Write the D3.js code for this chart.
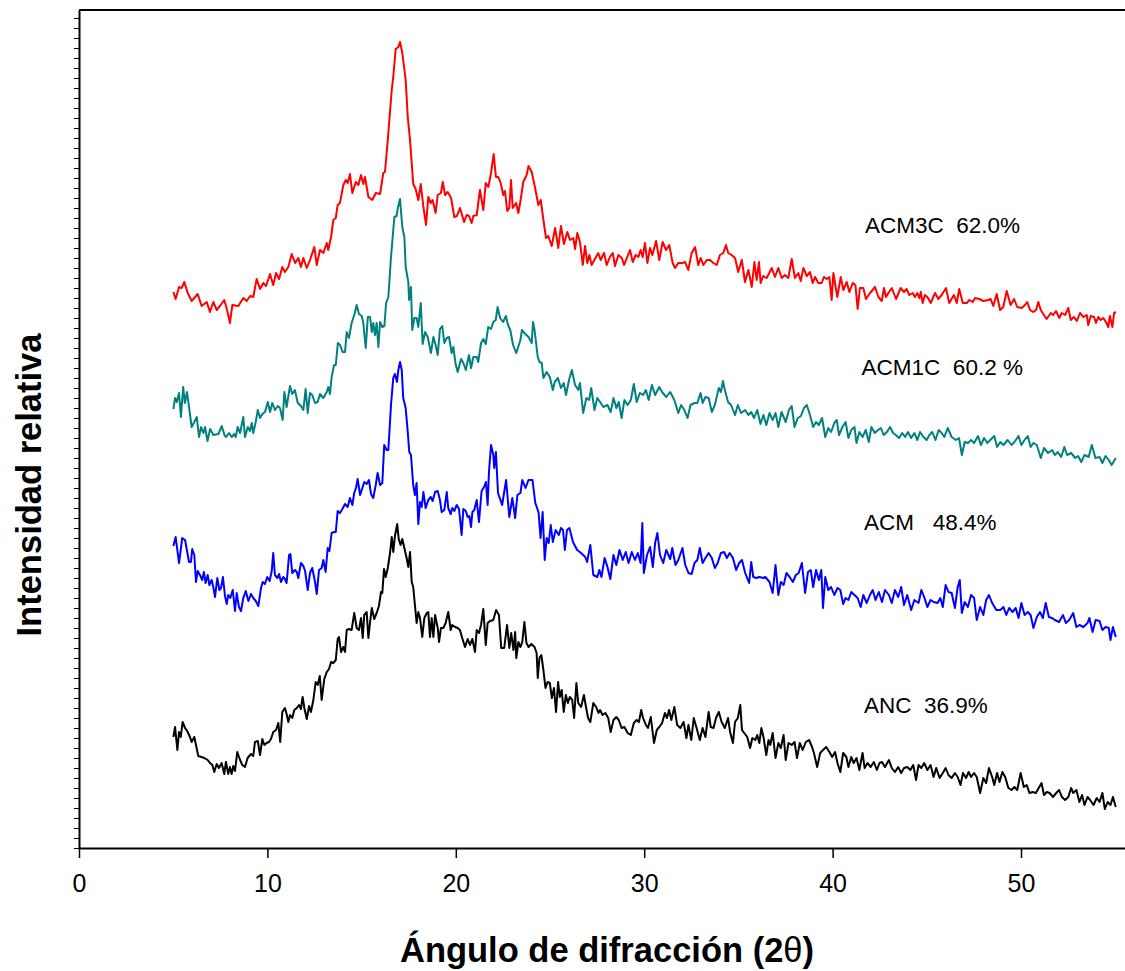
<!DOCTYPE html>
<html><head><meta charset="utf-8">
<script src="https://cdn.jsdelivr.net/npm/d3@7"></script>
<style>body{margin:0;background:#fff}svg{display:block}</style>
</head><body><svg id="chart" width="1125" height="971"></svg>
<script>
// ---------- DATA ----------
const xTicks=[0,10,20,30,40,50];
const seriesNames=["ACM3C","ACM1C","ACM","ANC"];
const seriesLabels=["ACM3C  62.0%","ACM1C  60.2 %","ACM   48.4%","ANC  36.9%"];
// [angle 2θ (deg), relative intensity (a.u.)]
const ACM3C=[[5.01,556],[5.13,549],[5.31,561],[5.45,560],[5.59,566],[5.77,555],[5.98,547],[6.30,554],[6.51,542],[6.78,546],[6.95,536],[7.13,546],[7.31,538],[7.48,542],[7.71,548],[7.86,538],[8.01,525],[8.14,543],[8.46,542],[8.72,550],[8.90,547],[9.08,552],[9.25,551],[9.43,569],[9.61,559],[9.78,565],[9.93,562],[10.14,574],[10.31,563],[10.46,575],[10.62,569],[10.79,581],[10.93,576],[11.11,581],[11.29,594],[11.47,585],[11.64,590],[11.78,581],[11.91,590],[12.09,580],[12.26,588],[12.49,601],[12.62,583],[12.79,598],[12.97,595],[13.15,605],[13.23,598],[13.38,611],[13.50,628],[13.63,630],[13.73,643],[13.85,645],[14.03,663],[14.16,668],[14.26,665],[14.38,674],[14.51,655],[14.69,666],[14.83,663],[14.97,673],[15.09,664],[15.18,671],[15.36,651],[15.57,648],[15.75,655],[15.98,654],[16.15,675],[16.24,676],[16.39,708],[16.60,758],[16.68,771],[16.81,799],[16.95,801],[17.04,806],[17.16,795],[17.34,768],[17.45,731],[17.57,708],[17.74,664],[17.87,659],[18.01,648],[18.14,664],[18.28,641],[18.42,623],[18.54,651],[18.67,645],[18.77,648],[18.93,635],[19.04,653],[19.21,655],[19.31,666],[19.43,653],[19.57,656],[19.75,650],[19.92,631],[20.06,632],[20.22,640],[20.44,626],[20.58,633],[20.70,632],[20.84,625],[20.93,632],[21.11,633],[21.28,658],[21.46,638],[21.59,665],[21.73,661],[21.87,675],[22.01,694],[22.13,671],[22.26,671],[22.38,665],[22.52,653],[22.61,657],[22.73,637],[22.84,640],[22.93,668],[23.02,640],[23.20,645],[23.32,635],[23.44,648],[23.58,666],[23.76,673],[23.86,682],[24.03,676],[24.20,661],[24.38,643],[24.51,648],[24.65,628],[24.79,610],[24.91,612],[25.09,602],[25.27,620],[25.44,600],[25.58,622],[25.74,604],[25.92,616],[26.06,608],[26.24,610],[26.33,599],[26.45,615],[26.59,606],[26.74,583],[26.86,602],[26.98,585],[27.09,593],[27.21,583],[27.44,591],[27.56,595],[27.69,588],[27.87,595],[28.01,583],[28.18,591],[28.33,595],[28.45,582],[28.63,593],[28.81,590],[28.93,583],[29.10,591],[29.25,598],[29.39,586],[29.55,593],[29.69,591],[29.81,598],[29.92,591],[30.04,605],[30.17,585],[30.31,600],[30.43,593],[30.63,607],[30.80,588],[30.98,606],[31.16,598],[31.33,603],[31.51,585],[31.64,580],[31.81,585],[32.04,585],[32.17,586],[32.34,578],[32.52,595],[32.70,601],[32.87,583],[33.00,590],[33.14,583],[33.32,588],[33.49,588],[33.67,585],[33.85,583],[34.02,593],[34.20,595],[34.34,603],[34.46,595],[34.64,593],[34.82,590],[34.99,576],[35.18,588],[35.35,566],[35.53,578],[35.71,561],[35.85,586],[35.97,568],[36.09,586],[36.18,565],[36.32,572],[36.50,570],[36.77,580],[36.94,571],[37.12,580],[37.30,570],[37.47,573],[37.65,570],[37.83,589],[38.00,570],[38.18,575],[38.31,567],[38.45,580],[38.63,572],[38.80,576],[38.94,565],[39.07,571],[39.24,565],[39.42,565],[39.54,571],[39.69,569],[39.83,571],[39.95,548],[40.04,575],[40.25,551],[40.43,571],[40.57,558],[40.75,566],[40.89,556],[41.07,565],[41.21,563],[41.33,539],[41.45,560],[41.63,560],[41.77,549],[41.99,555],[42.25,561],[42.43,551],[42.61,547],[42.73,560],[42.83,551],[42.96,555],[43.14,560],[43.37,549],[43.61,560],[43.79,556],[43.93,559],[44.07,553],[44.25,555],[44.37,551],[44.50,555],[44.60,550],[44.68,556],[44.78,545],[44.90,553],[45.03,551],[45.21,545],[45.44,555],[45.61,549],[45.79,553],[46.02,560],[46.19,545],[46.44,553],[46.59,545],[46.72,559],[46.91,545],[47.12,545],[47.26,548],[47.44,546],[47.56,550],[47.79,549],[48.00,547],[48.26,548],[48.39,549],[48.53,542],[48.71,554],[48.89,538],[49.06,541],[49.24,557],[49.45,543],[49.63,549],[49.80,541],[50.04,540],[50.21,543],[50.33,546],[50.48,538],[50.65,536],[50.80,538],[50.92,546],[51.05,538],[51.18,534],[51.36,529],[51.58,535],[51.71,533],[51.86,537],[52.03,530],[52.16,535],[52.34,533],[52.51,540],[52.64,528],[52.81,531],[52.96,527],[53.13,535],[53.31,531],[53.49,533],[53.57,523],[53.70,532],[53.88,531],[53.98,525],[54.10,531],[54.23,528],[54.37,530],[54.51,526],[54.63,521],[54.72,532],[54.85,521],[54.94,535],[55.04,536]];
const ACM1C=[[5.01,439],[5.10,450],[5.19,446],[5.31,455],[5.41,431],[5.53,461],[5.62,445],[5.73,456],[5.84,441],[5.98,421],[6.12,426],[6.25,431],[6.37,411],[6.48,421],[6.60,415],[6.69,421],[6.82,407],[6.96,419],[7.13,413],[7.40,414],[7.58,422],[7.72,413],[7.81,411],[7.96,415],[8.11,411],[8.24,414],[8.32,411],[8.42,421],[8.55,415],[8.72,431],[8.81,411],[8.96,421],[9.08,417],[9.17,425],[9.25,415],[9.38,426],[9.49,438],[9.61,430],[9.73,434],[9.87,436],[10.02,446],[10.14,436],[10.26,445],[10.40,438],[10.55,442],[10.67,440],[10.81,428],[10.90,456],[11.02,441],[11.20,462],[11.32,454],[11.46,458],[11.61,445],[11.78,442],[11.91,438],[12.03,459],[12.14,435],[12.26,455],[12.38,453],[12.53,445],[12.67,446],[12.79,454],[12.97,450],[13.15,456],[13.23,461],[13.32,454],[13.41,471],[13.54,483],[13.63,483],[13.74,505],[13.86,503],[13.99,496],[14.12,496],[14.21,516],[14.33,510],[14.47,525],[14.61,533],[14.74,543],[14.86,534],[15.01,532],[15.09,525],[15.22,500],[15.33,531],[15.45,531],[15.54,516],[15.62,525],[15.71,513],[15.80,525],[15.89,501],[15.98,526],[16.10,521],[16.21,522],[16.30,545],[16.42,551],[16.56,591],[16.74,631],[16.86,632],[16.92,640],[17.04,649],[17.16,621],[17.27,611],[17.34,581],[17.48,566],[17.52,548],[17.62,561],[17.69,518],[17.80,530],[17.92,530],[18.01,521],[18.14,545],[18.24,504],[18.37,516],[18.51,511],[18.68,495],[18.81,511],[18.93,503],[19.04,493],[19.16,519],[19.28,522],[19.39,505],[19.52,510],[19.64,511],[19.78,495],[19.87,501],[19.99,484],[20.10,476],[20.28,489],[20.40,485],[20.53,478],[20.70,493],[20.81,480],[20.93,491],[21.11,491],[21.19,486],[21.34,505],[21.46,509],[21.59,504],[21.72,521],[21.87,519],[21.99,526],[22.12,528],[22.22,541],[22.35,530],[22.51,526],[22.66,532],[22.77,523],[22.89,518],[23.04,503],[23.21,495],[23.43,508],[23.51,518],[23.64,515],[23.86,511],[24.03,505],[24.10,526],[24.18,518],[24.35,491],[24.44,486],[24.56,485],[24.65,470],[24.82,476],[24.99,471],[25.15,458],[25.25,466],[25.42,470],[25.58,460],[25.73,465],[25.85,453],[26.01,468],[26.16,478],[26.33,463],[26.50,458],[26.59,465],[26.76,435],[26.93,450],[27.08,448],[27.19,460],[27.36,438],[27.51,450],[27.66,446],[27.83,441],[28.05,443],[28.22,436],[28.37,450],[28.52,440],[28.65,446],[28.80,430],[28.95,448],[29.12,443],[29.29,448],[29.45,464],[29.60,446],[29.77,455],[29.94,453],[30.09,458],[30.24,448],[30.41,463],[30.58,453],[30.80,461],[30.95,456],[31.17,451],[31.38,456],[31.60,448],[31.81,435],[31.96,443],[32.13,438],[32.30,430],[32.46,443],[32.67,445],[32.82,445],[32.99,455],[33.10,445],[33.25,451],[33.42,450],[33.59,436],[33.75,443],[33.96,460],[34.07,456],[34.18,467],[34.28,458],[34.45,446],[34.61,443],[34.82,433],[34.97,443],[35.14,435],[35.36,438],[35.53,433],[35.68,436],[35.83,430],[36.00,438],[36.17,424],[36.33,433],[36.48,423],[36.65,435],[36.82,428],[36.97,435],[37.12,421],[37.29,436],[37.51,426],[37.68,438],[37.83,442],[37.98,421],[38.15,430],[38.32,432],[38.48,440],[38.63,443],[38.80,433],[38.97,421],[39.12,426],[39.27,423],[39.44,430],[39.61,411],[39.77,420],[39.92,416],[40.09,425],[40.22,428],[40.34,413],[40.52,421],[40.69,426],[40.84,410],[40.99,418],[41.16,421],[41.27,405],[41.42,416],[41.59,411],[41.76,418],[41.92,406],[42.06,421],[42.24,415],[42.41,418],[42.56,420],[42.71,413],[42.88,416],[43.05,421],[43.21,415],[43.35,413],[43.53,410],[43.70,415],[43.85,411],[44.00,416],[44.17,410],[44.34,415],[44.50,408],[44.64,416],[44.82,411],[44.99,408],[45.14,413],[45.29,416],[45.46,408],[45.63,418],[45.79,415],[45.93,411],[46.11,420],[46.32,411],[46.54,408],[46.71,410],[46.86,393],[47.01,406],[47.18,405],[47.35,408],[47.51,405],[47.72,412],[47.87,403],[48.04,410],[48.21,405],[48.37,408],[48.58,412],[48.73,401],[48.90,406],[49.07,403],[49.29,408],[49.50,403],[49.65,406],[49.87,412],[50.02,403],[50.19,408],[50.36,412],[50.51,401],[50.66,405],[50.84,403],[51.05,390],[51.22,400],[51.44,395],[51.65,398],[51.80,393],[51.95,396],[52.13,391],[52.30,401],[52.45,393],[52.66,395],[52.88,390],[53.03,392],[53.20,386],[53.37,393],[53.59,391],[53.76,403],[53.95,390],[54.17,391],[54.32,385],[54.49,392],[54.66,388],[54.81,383],[55.03,390]];
const ACM=[[5.01,302],[5.13,311],[5.31,285],[5.48,310],[5.63,308],[5.84,286],[5.94,286],[6.01,299],[6.12,293],[6.21,266],[6.30,277],[6.42,273],[6.54,268],[6.63,276],[6.72,265],[6.83,273],[6.92,263],[7.04,268],[7.13,261],[7.22,251],[7.34,270],[7.45,258],[7.54,260],[7.64,271],[7.75,252],[7.84,244],[7.92,253],[8.03,250],[8.16,258],[8.28,237],[8.37,255],[8.49,241],[8.60,237],[8.72,250],[8.85,257],[8.99,247],[9.13,254],[9.25,250],[9.38,247],[9.52,242],[9.66,260],[9.75,266],[9.87,264],[9.99,271],[10.12,267],[10.23,277],[10.31,295],[10.40,273],[10.53,270],[10.62,274],[10.72,266],[10.84,271],[10.93,269],[11.02,265],[11.15,293],[11.22,294],[11.32,275],[11.46,278],[11.56,276],[11.64,270],[11.78,285],[11.91,282],[12.00,277],[12.14,258],[12.26,275],[12.38,280],[12.53,266],[12.62,254],[12.74,278],[12.88,280],[12.97,288],[13.09,276],[13.20,300],[13.29,297],[13.41,315],[13.54,316],[13.63,316],[13.73,337],[13.85,335],[13.98,339],[14.12,344],[14.26,341],[14.38,350],[14.51,343],[14.61,355],[14.70,360],[14.79,369],[14.92,353],[15.04,360],[15.14,366],[15.27,364],[15.39,368],[15.50,354],[15.62,350],[15.75,363],[15.85,375],[15.98,363],[16.10,365],[16.20,403],[16.33,398],[16.42,398],[16.56,443],[16.68,470],[16.77,474],[16.88,466],[16.95,478],[17.04,486],[17.13,478],[17.21,450],[17.34,440],[17.45,416],[17.53,396],[17.62,393],[17.74,363],[17.83,353],[17.92,365],[18.01,324],[18.10,346],[18.19,341],[18.28,356],[18.40,340],[18.54,348],[18.67,351],[18.77,347],[18.90,356],[19.04,357],[19.16,348],[19.25,336],[19.39,338],[19.52,356],[19.60,340],[19.73,334],[19.81,340],[19.92,337],[20.05,343],[20.17,339],[20.31,313],[20.40,339],[20.53,337],[20.63,331],[20.72,332],[20.81,321],[20.88,336],[20.98,338],[21.11,348],[21.23,326],[21.37,357],[21.50,361],[21.60,366],[21.69,343],[21.76,376],[21.87,403],[21.99,393],[22.04,380],[22.13,396],[22.24,355],[22.46,343],[22.67,368],[22.84,331],[23.00,350],[23.15,330],[23.27,353],[23.43,355],[23.53,368],[23.70,360],[23.86,368],[24.07,368],[24.22,345],[24.39,336],[24.50,310],[24.61,336],[24.72,288],[24.82,310],[24.93,305],[25.04,323],[25.15,306],[25.30,318],[25.47,313],[25.58,320],[25.69,318],[25.79,298],[25.90,318],[26.03,320],[26.22,306],[26.44,298],[26.65,295],[26.87,291],[26.97,286],[27.14,303],[27.30,273],[27.51,271],[27.62,278],[27.73,271],[27.90,290],[28.05,281],[28.20,269],[28.37,293],[28.52,283],[28.69,298],[28.86,288],[29.02,296],[29.17,285],[29.34,296],[29.51,288],[29.66,295],[29.81,285],[29.90,325],[29.98,275],[30.15,293],[30.31,301],[30.46,281],[30.58,305],[30.70,315],[30.84,293],[31.01,285],[31.17,298],[31.38,289],[31.49,300],[31.66,283],[31.81,288],[32.03,300],[32.18,283],[32.35,275],[32.52,274],[32.67,285],[32.82,288],[32.95,300],[33.10,285],[33.25,290],[33.42,295],[33.59,290],[33.75,280],[33.90,285],[34.07,295],[34.24,296],[34.39,290],[34.54,295],[34.71,290],[34.88,278],[35.04,285],[35.19,288],[35.36,275],[35.57,265],[35.68,286],[35.79,271],[35.96,270],[36.11,271],[36.33,270],[36.43,271],[36.65,266],[36.82,255],[36.97,283],[37.12,253],[37.25,266],[37.40,263],[37.55,275],[37.72,271],[37.89,266],[38.05,273],[38.20,275],[38.37,285],[38.54,255],[38.69,276],[38.84,278],[38.97,261],[39.12,278],[39.27,268],[39.40,278],[39.49,240],[39.61,271],[39.77,258],[39.92,261],[40.09,253],[40.26,260],[40.41,258],[40.56,244],[40.69,250],[40.84,248],[40.99,256],[41.16,253],[41.33,250],[41.49,241],[41.63,253],[41.81,245],[41.98,253],[42.13,258],[42.28,248],[42.45,256],[42.62,246],[42.78,258],[42.99,253],[43.14,245],[43.31,258],[43.48,251],[43.64,261],[43.79,243],[43.96,253],[44.17,238],[44.34,248],[44.56,245],[44.71,258],[44.86,251],[45.03,241],[45.20,248],[45.36,246],[45.57,245],[45.72,250],[45.85,241],[46.00,263],[46.15,256],[46.32,255],[46.49,240],[46.64,261],[46.75,268],[46.86,235],[47.01,246],[47.18,241],[47.35,253],[47.51,250],[47.65,228],[47.83,241],[48.00,233],[48.15,248],[48.30,253],[48.47,245],[48.69,238],[48.90,238],[49.07,241],[49.22,233],[49.37,240],[49.55,236],[49.72,240],[49.87,230],[50.02,245],[50.19,233],[50.36,236],[50.51,233],[50.66,220],[50.84,231],[51.01,236],[51.16,230],[51.31,245],[51.48,231],[51.65,230],[51.80,228],[52.02,226],[52.23,233],[52.38,225],[52.56,228],[52.77,235],[52.94,221],[53.10,223],[53.31,221],[53.53,225],[53.63,230],[53.80,216],[53.96,228],[54.17,227],[54.32,218],[54.49,221],[54.66,220],[54.75,208],[54.88,221],[55.03,211]];
const ANC=[[5.01,111],[5.10,121],[5.22,98],[5.31,116],[5.40,111],[5.50,126],[5.63,120],[5.77,116],[5.89,111],[5.98,106],[6.12,111],[6.21,103],[6.33,92],[6.51,91],[6.65,90],[6.83,88],[6.95,85],[7.08,83],[7.18,76],[7.31,84],[7.43,80],[7.57,85],[7.71,74],[7.80,86],[7.92,74],[8.01,81],[8.10,74],[8.19,82],[8.28,77],[8.40,96],[8.55,88],[8.67,83],[8.81,81],[8.95,90],[9.13,94],[9.25,92],[9.34,106],[9.49,107],[9.61,93],[9.73,109],[9.84,103],[9.96,105],[10.08,106],[10.19,109],[10.31,116],[10.46,118],[10.58,125],[10.68,106],[10.79,136],[10.93,140],[11.02,134],[11.11,126],[11.20,133],[11.32,130],[11.43,138],[11.56,140],[11.68,143],[11.78,139],[11.87,151],[11.96,140],[12.09,129],[12.21,142],[12.31,136],[12.44,148],[12.56,166],[12.67,163],[12.78,172],[12.88,148],[13.02,169],[13.15,176],[13.27,179],[13.38,186],[13.50,185],[13.63,188],[13.73,209],[13.80,211],[13.91,196],[14.03,201],[14.12,196],[14.21,218],[14.33,219],[14.47,218],[14.61,235],[14.74,220],[14.86,218],[14.97,230],[15.06,210],[15.14,233],[15.27,236],[15.36,210],[15.45,226],[15.54,240],[15.67,229],[15.80,235],[15.92,242],[16.03,256],[16.10,255],[16.19,279],[16.28,271],[16.39,280],[16.51,295],[16.60,311],[16.68,296],[16.77,312],[16.89,324],[16.97,309],[17.07,303],[17.16,309],[17.27,300],[17.39,290],[17.48,281],[17.57,296],[17.66,266],[17.74,261],[17.83,243],[17.92,225],[18.01,236],[18.10,230],[18.22,211],[18.33,230],[18.46,235],[18.54,236],[18.63,211],[18.72,230],[18.81,211],[18.90,233],[19.04,220],[19.11,206],[19.21,220],[19.34,220],[19.46,225],[19.60,236],[19.73,218],[19.81,223],[19.96,221],[20.10,220],[20.22,218],[20.34,210],[20.49,201],[20.63,209],[20.75,203],[20.88,209],[21.02,196],[21.11,218],[21.23,215],[21.34,223],[21.46,239],[21.59,203],[21.69,225],[21.82,227],[21.99,228],[22.14,238],[22.29,233],[22.41,200],[22.57,200],[22.72,223],[22.84,200],[22.94,215],[23.06,198],[23.15,216],[23.21,190],[23.32,206],[23.43,201],[23.53,206],[23.64,226],[23.75,205],[23.86,201],[24.01,204],[24.18,201],[24.29,195],[24.35,170],[24.44,190],[24.54,193],[24.65,178],[24.76,160],[24.87,166],[24.99,165],[25.10,150],[25.21,160],[25.32,136],[25.43,166],[25.52,151],[25.62,158],[25.73,136],[25.84,153],[25.95,145],[26.05,151],[26.18,148],[26.28,130],[26.40,165],[26.50,145],[26.65,141],[26.80,153],[26.91,141],[27.02,130],[27.14,126],[27.30,145],[27.45,141],[27.57,135],[27.66,138],[27.79,133],[27.94,135],[28.09,130],[28.22,116],[28.37,128],[28.52,131],[28.65,128],[28.80,120],[28.95,121],[29.12,115],[29.29,113],[29.45,125],[29.60,128],[29.72,126],[29.84,138],[29.94,130],[30.09,123],[30.20,120],[30.35,131],[30.52,105],[30.67,118],[30.80,121],[30.95,125],[31.10,135],[31.21,130],[31.32,138],[31.44,128],[31.60,141],[31.75,123],[31.92,120],[32.09,126],[32.24,110],[32.35,123],[32.50,108],[32.63,130],[32.78,120],[32.95,108],[33.10,120],[33.25,111],[33.42,136],[33.53,121],[33.68,120],[33.81,130],[33.96,136],[34.11,126],[34.28,120],[34.45,130],[34.56,116],[34.71,105],[34.82,126],[34.97,130],[35.10,143],[35.19,118],[35.31,115],[35.47,111],[35.62,100],[35.74,110],[35.90,108],[36.00,113],[36.11,105],[36.22,120],[36.33,111],[36.48,93],[36.60,108],[36.69,103],[36.82,115],[36.97,90],[37.12,105],[37.25,100],[37.40,113],[37.51,88],[37.66,105],[37.83,103],[37.98,106],[38.11,90],[38.26,105],[38.41,98],[38.58,106],[38.75,108],[38.91,101],[39.01,95],[39.18,81],[39.34,95],[39.49,98],[39.66,101],[39.83,96],[39.98,91],[40.13,96],[40.26,85],[40.41,76],[40.56,95],[40.73,91],[40.84,81],[40.99,91],[41.12,85],[41.27,90],[41.42,78],[41.59,95],[41.70,80],[41.85,85],[42.02,81],[42.19,86],[42.35,78],[42.49,85],[42.62,86],[42.78,81],[42.99,88],[43.14,80],[43.31,76],[43.48,81],[43.64,75],[43.79,80],[43.96,81],[44.13,78],[44.28,83],[44.43,68],[44.56,83],[44.71,80],[44.86,85],[45.03,78],[45.20,83],[45.36,71],[45.50,80],[45.68,70],[45.85,75],[46.00,80],[46.15,73],[46.32,70],[46.49,75],[46.64,71],[46.79,63],[46.92,75],[47.08,70],[47.22,76],[47.35,71],[47.51,75],[47.65,71],[47.83,55],[48.00,70],[48.15,65],[48.30,80],[48.47,71],[48.58,63],[48.73,75],[48.86,66],[49.01,76],[49.16,71],[49.33,60],[49.50,58],[49.65,61],[49.80,58],[49.98,75],[50.15,61],[50.30,63],[50.45,55],[50.62,56],[50.79,55],[50.94,60],[51.09,65],[51.22,53],[51.37,56],[51.52,55],[51.70,51],[51.87,55],[52.02,58],[52.17,51],[52.34,48],[52.51,51],[52.66,60],[52.77,55],[52.94,58],[53.10,46],[53.24,53],[53.37,43],[53.53,51],[53.67,48],[53.85,43],[54.02,50],[54.17,46],[54.32,55],[54.45,39],[54.60,46],[54.75,43],[54.88,51],[55.03,41]];
const yMinorTicks=d3.range(0,839,10);

// ---------- DRAW ----------
const series=[ACM3C,ACM1C,ACM,ANC];
const colors=["#ff0000","#008080","#0000ff","#000000"];
const labelPos=[[41.72,615],[41.54,473],[41.67,318],[41.67,135]];
const FONT="Arial, 'Liberation Sans', sans-serif";

const svg=d3.select("#chart");
svg.append("rect").attr("width",1125).attr("height",971).attr("fill","#fff");
const x=d3.scaleLinear().domain([0,56]).range([79,79+56*18.84]);
const y=d3.scaleLinear().domain([0,838]).range([848,10]);

// frame top
svg.append("line").attr("x1",x(0)).attr("x2",1125).attr("y1",y(838)).attr("y2",y(838))
  .attr("stroke","#000").attr("stroke-width",2);

const gx=svg.append("g").attr("transform",`translate(0,${y(0)})`)
  .call(d3.axisBottom(x).tickValues(xTicks).tickSize(10).tickSizeOuter(0).tickPadding(16).tickFormat(d3.format("d")));
gx.select(".domain").attr("stroke","#000").attr("stroke-width",2);
gx.selectAll(".tick line").attr("stroke","#000").attr("stroke-width",1.5);
gx.selectAll(".tick text").attr("font-family",FONT).attr("font-size",25).attr("fill","#000");

const gy=svg.append("g").attr("transform",`translate(${x(0)},0)`)
  .call(d3.axisLeft(y).tickValues(yMinorTicks).tickSize(5).tickSizeOuter(0).tickFormat(""));
gy.select(".domain").attr("stroke","#000").attr("stroke-width",2);
gy.selectAll(".tick line").attr("stroke","#000").attr("stroke-width",1);

const line=d3.line().x(d=>x(d[0])).y(d=>y(d[1]));
series.forEach((s,i)=>{
  svg.append("path").datum(s).attr("d",line).attr("fill","none")
    .attr("stroke",colors[i]).attr("stroke-width",2).attr("stroke-linejoin","round");
  svg.append("text").attr("x",x(labelPos[i][0])).attr("y",y(labelPos[i][1]))
    .attr("font-family",FONT).attr("font-size",22.5).attr("fill","#000")
    .style("white-space","pre").text(seriesLabels[i]);
});

const xt=svg.append("text").attr("x",607).attr("y",962).attr("text-anchor","middle")
  .attr("font-family",FONT).attr("font-size",34.5).attr("font-weight","bold").attr("fill","#000");
xt.append("tspan").text("Ángulo de difracción (2");
xt.append("tspan").attr("font-weight","normal").text("θ");
xt.append("tspan").text(")");

svg.append("text").attr("transform","translate(41,485) rotate(-90)").attr("text-anchor","middle")
  .attr("font-family",FONT).attr("font-size",34.5).attr("font-weight","bold").attr("fill","#000")
  .text("Intensidad relativa");
</script>
</body></html>
